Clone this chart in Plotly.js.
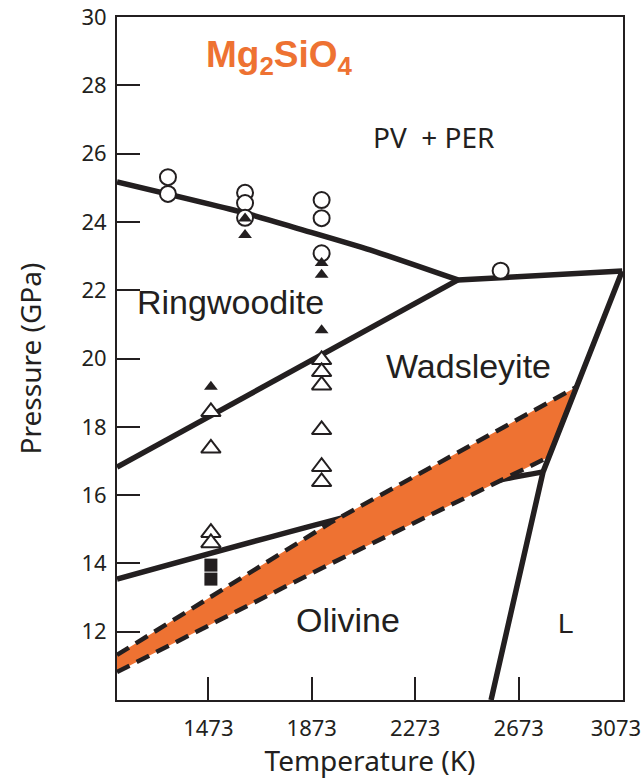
<!DOCTYPE html>
<html>
<head>
<meta charset="utf-8">
<script src="https://cdn.plot.ly/plotly-3.0.1.min.js"></script>
<style>
  html, body { margin: 0; padding: 0; background: #ffffff; }
  #chart { width: 644px; height: 779px; }
</style>
</head>
<body>
<div id="chart"></div>
<script>
// Mg2SiO4 phase diagram: pressure (GPa) versus temperature (K)

// Axis ticks
const tempTicks = [1473, 1873, 2273, 2673, 3073];
const pressTicks = [12, 14, 16, 18, 20, 22, 24, 26, 28, 30];

// Phase boundaries (T in K, P in GPa)
const ringPvT = [1120, 1615, 1827, 2098, 2438];    // ringwoodite -> PV + PER
const ringPvP = [25.17, 24.26, 23.79, 23.18, 22.30];
const wadsPvT = [2438, 3073];                       // wadsleyite -> PV + PER
const wadsPvP = [22.30, 22.56];
const ringWadsT = [1120, 2438];                     // ringwoodite / wadsleyite
const ringWadsP = [16.82, 22.30];
const olWadsT = [1120, 1943, 2600, 2767];           // olivine / wadsleyite
const olWadsP = [13.54, 15.24, 16.44, 16.68];
const meltT = [2566, 2767, 3073];                   // solidus to liquid L
const meltP = [10.0, 16.68, 22.56];

// Shaded band bounded by dashed curves
const bandUpperT = [1120, 1943, 2897];
const bandUpperP = [11.32, 15.18, 19.17];
const bandLowerT = [1120, 1943, 2790];
const bandLowerP = [10.82, 13.98, 17.12];

// Experimental run products
const circT = [1317, 1317, 1615, 1615, 1615, 1911, 1911, 1911, 2603];
const circP = [25.31, 24.82, 24.85, 24.55, 24.12, 24.64, 24.11, 23.08, 22.57];
const fTriT = [1615, 1615, 1911, 1911, 1911, 1483];
const fTriP = [24.10, 23.62, 22.80, 22.45, 20.83, 19.17];
const oTriT = [1911, 1911, 1911, 1911, 1911, 1911, 1483, 1483, 1483, 1483];
const oTriP = [19.96, 19.61, 19.22, 17.91, 16.83, 16.39, 18.44, 17.37, 14.90, 14.60];
const sqT = [1483, 1483];
const sqP = [13.95, 13.54];

const INK = '#231f20';
const ORANGE = '#ee7232';
const LW = 5.5;

function solid(x, y, smooth) {
  const line = { color: INK, width: LW };
  if (smooth) { line.shape = 'spline'; line.smoothing = 0.6; }
  return { x: x, y: y, type: 'scatter', mode: 'lines', line: line, hoverinfo: 'skip' };
}
function dashed(x, y) {
  return { x: x, y: y, type: 'scatter', mode: 'lines',
           line: { color: INK, width: 4.5, dash: '14px,8px' }, hoverinfo: 'skip' };
}

// polygon for the shaded band: upper curve, along the melting curve, back along lower curve
const bandT = bandUpperT.concat(bandLowerT.slice().reverse());
const bandP = bandUpperP.concat(bandLowerP.slice().reverse());

const traces = [
  solid(olWadsT, olWadsP, true),
  { x: bandT, y: bandP, type: 'scatter', mode: 'lines', fill: 'toself',
    fillcolor: ORANGE, line: { width: 0, color: ORANGE }, hoverinfo: 'skip' },
  dashed(bandUpperT, bandUpperP),
  dashed(bandLowerT, bandLowerP),
  solid(ringPvT, ringPvP, true),
  solid(wadsPvT, wadsPvP),
  solid(ringWadsT, ringWadsP),
  solid(meltT, meltP),
  { x: circT, y: circP, type: 'scatter', mode: 'markers',
    marker: { symbol: 'circle', size: 16, color: '#ffffff', line: { color: INK, width: 2 } } },
  { x: oTriT, y: oTriP, type: 'scatter', mode: 'markers',
    marker: { symbol: 'triangle-up', size: 17, color: '#ffffff', line: { color: INK, width: 2 } } },
  { x: fTriT, y: fTriP, type: 'scatter', mode: 'markers',
    marker: { symbol: 'triangle-up', size: 12, color: INK, line: { width: 0 } } },
  { x: sqT, y: sqP, type: 'scatter', mode: 'markers',
    marker: { symbol: 'square', size: 13, color: INK, line: { width: 0 } } }
];

const labelFont = { family: 'Liberation Sans, Arial, sans-serif', size: 34, color: INK };

// the last temperature label sits on the right frame; a trailing figure space keeps it inside the page
const tempText = tempTicks.map((t, i) => i === tempTicks.length - 1 ? t + '\u2007' : String(t));

const layout = {
  width: 644, height: 779,
  margin: { l: 117, r: 21, t: 17, b: 79, pad: 0 },
  paper_bgcolor: '#ffffff', plot_bgcolor: '#ffffff',
  showlegend: false, hovermode: false,
  xaxis: {
    range: [1120, 3076], tickvals: tempTicks, ticktext: tempText,
    ticks: 'inside', ticklen: 23, tickwidth: 2, tickcolor: INK,
    showline: true, linecolor: INK, linewidth: 2, mirror: true,
    showgrid: false, zeroline: false, ticklabelstandoff: 8, ticklabeloverflow: 'allow',
    tickfont: { family: 'Noto Sans, sans-serif', size: 22, color: INK },
    title: { text: 'Temperature (K)', standoff: 8,
             font: { family: 'Noto Sans, sans-serif', size: 28, color: INK } }
  },
  yaxis: {
    range: [10, 30], tickvals: pressTicks, ticktext: pressTicks.map(String),
    ticks: 'inside', ticklen: 23, tickwidth: 2, tickcolor: INK,
    showline: true, linecolor: INK, linewidth: 2, mirror: true,
    showgrid: false, zeroline: false, ticklabelstandoff: 4,
    tickfont: { family: 'Noto Sans, sans-serif', size: 22, color: INK },
    title: { text: 'Pressure (GPa)', standoff: 32,
             font: { family: 'Noto Sans, sans-serif', size: 28, color: INK } }
  },
  annotations: [
    { x: 1750, y: 28.83, xref: 'x', yref: 'y', showarrow: false,
      text: '<b>Mg<sub>2</sub>SiO<sub>4</sub></b>',
      font: { family: 'Liberation Sans, Arial, sans-serif', size: 37, color: ORANGE } },
    { x: 2345, y: 26.49, xref: 'x', yref: 'y', showarrow: false, text: 'PV  + PER',
      font: { family: 'Noto Sans, sans-serif', size: 28, color: INK } },
    { x: 1557, y: 21.65, xref: 'x', yref: 'y', showarrow: false, text: 'Ringwoodite', font: labelFont },
    { x: 2477, y: 19.78, xref: 'x', yref: 'y', showarrow: false, text: 'Wadsleyite', font: labelFont },
    { x: 2013, y: 12.34, xref: 'x', yref: 'y', showarrow: false, text: 'Olivine', font: labelFont },
    { x: 2856, y: 12.25, xref: 'x', yref: 'y', showarrow: false, text: 'L',
      font: { family: 'Liberation Sans, Arial, sans-serif', size: 28, color: INK } }
  ]
};

Plotly.newPlot('chart', traces, layout, { staticPlot: true, displayModeBar: false });
</script>
</body>
</html>
